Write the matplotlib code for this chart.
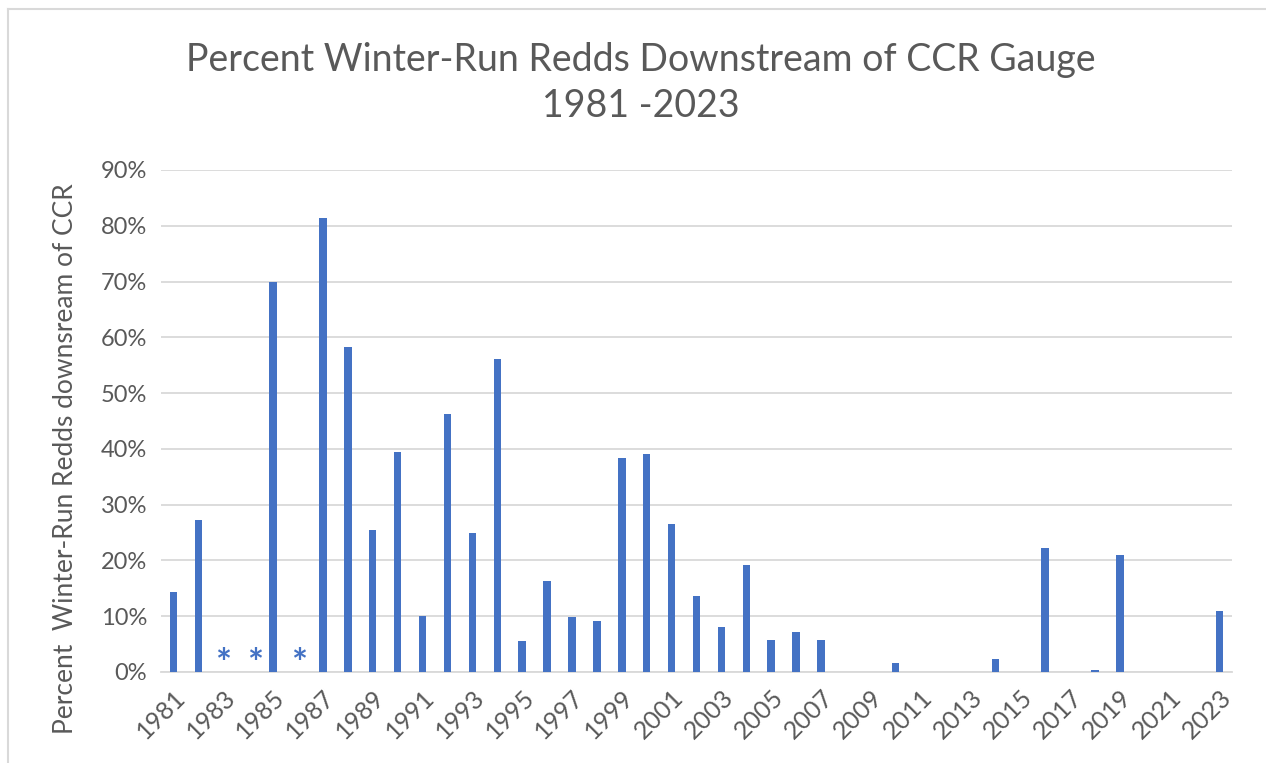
import matplotlib
matplotlib.use("Agg")
import matplotlib.pyplot as plt
from matplotlib.lines import Line2D
import numpy as np

years = list(range(1981, 2024))
values = [14.4, 27.2, 0, 0, 69.9, 0, 81.4, 58.2, 25.5, 39.5,
          10.0, 46.3, 25.0, 56.2, 5.6, 16.3, 9.9, 9.1, 38.4, 39.0,
          26.6, 13.7, 8.1, 19.2, 5.7, 7.1, 5.8, 0, 0, 1.7,
          0, 0, 0, 2.3, 0, 22.2, 0, 0.4, 20.9, 0,
          0, 0, 10.9]
asterisk_years = [1983, 1984, 1986]
asterisk_offsets = [0.0, 0.27, 0.05]
asterisk_level = -0.8
yticks = [0, 10, 20, 30, 40, 50, 60, 70, 80, 90]
title = "Percent Winter-Run Redds Downstream of CCR Gauge\n1981 -2023"
ylabel = "Percent  Winter-Run Redds downsream of CCR"

FONT = ["Lato", "DejaVu Sans"]
TXT = "#595959"
BAR = "#4472C4"

plt.rcParams['font.family'] = FONT

fig = plt.figure(figsize=(12.66, 7.63), dpi=100)
W, H = 1266, 763
ax = fig.add_axes([161 / W, 1 - 672 / H, (1232 - 161) / W, (672 - 170) / H])

x = np.arange(len(years))
ax.bar(x, values, width=0.3, color=BAR, zorder=3)

for yr, off in zip(asterisk_years, asterisk_offsets):
    ax.text(years.index(yr) + off, asterisk_level, "*", color=BAR, fontsize=27,
            fontweight="bold", ha="center", va="baseline", zorder=4, clip_on=False)

ax.set_xlim(-0.5, len(years) - 0.5)
ax.set_ylim(0, 90)
ax.set_yticks(yticks)
ax.set_yticklabels([f"{v}%" for v in yticks], fontsize=17, color=TXT)
ax.yaxis.grid(True, color="#d9d9d9", linewidth=1.3, zorder=0)
ax.set_axisbelow(True)
for s in ["top", "right", "left"]:
    ax.spines[s].set_visible(False)
ax.spines["bottom"].set_color("#d9d9d9")
ax.spines["bottom"].set_linewidth(1.3)
ax.tick_params(axis="both", length=0)
ax.tick_params(axis="y", pad=10)

xt = x[::2]
ax.set_xticks(xt)
ax.set_xticklabels([str(years[i]) for i in xt], rotation=45, ha="right",
                   rotation_mode="anchor", fontsize=18, color=TXT)
ax.tick_params(axis="x", pad=10)

fig.text(641 / W, 1 - 83 / H, title, ha="center", va="center",
         fontsize=27, color=TXT, linespacing=1.33)
fig.text(66 / W, 1 - 459 / H, ylabel, rotation=90, ha="center", va="center",
         fontsize=19, color=TXT)

# chart-area border (top and left edges visible)
fig.add_artist(Line2D([8 / W, 8 / W], [0, 1 - 9 / H], transform=fig.transFigure,
                      color="#d9d9d9", linewidth=1.5))
fig.add_artist(Line2D([8 / W, 1], [1 - 9 / H, 1 - 9 / H], transform=fig.transFigure,
                      color="#d9d9d9", linewidth=1.5))

fig.savefig("out.png", dpi=100, facecolor="white")
